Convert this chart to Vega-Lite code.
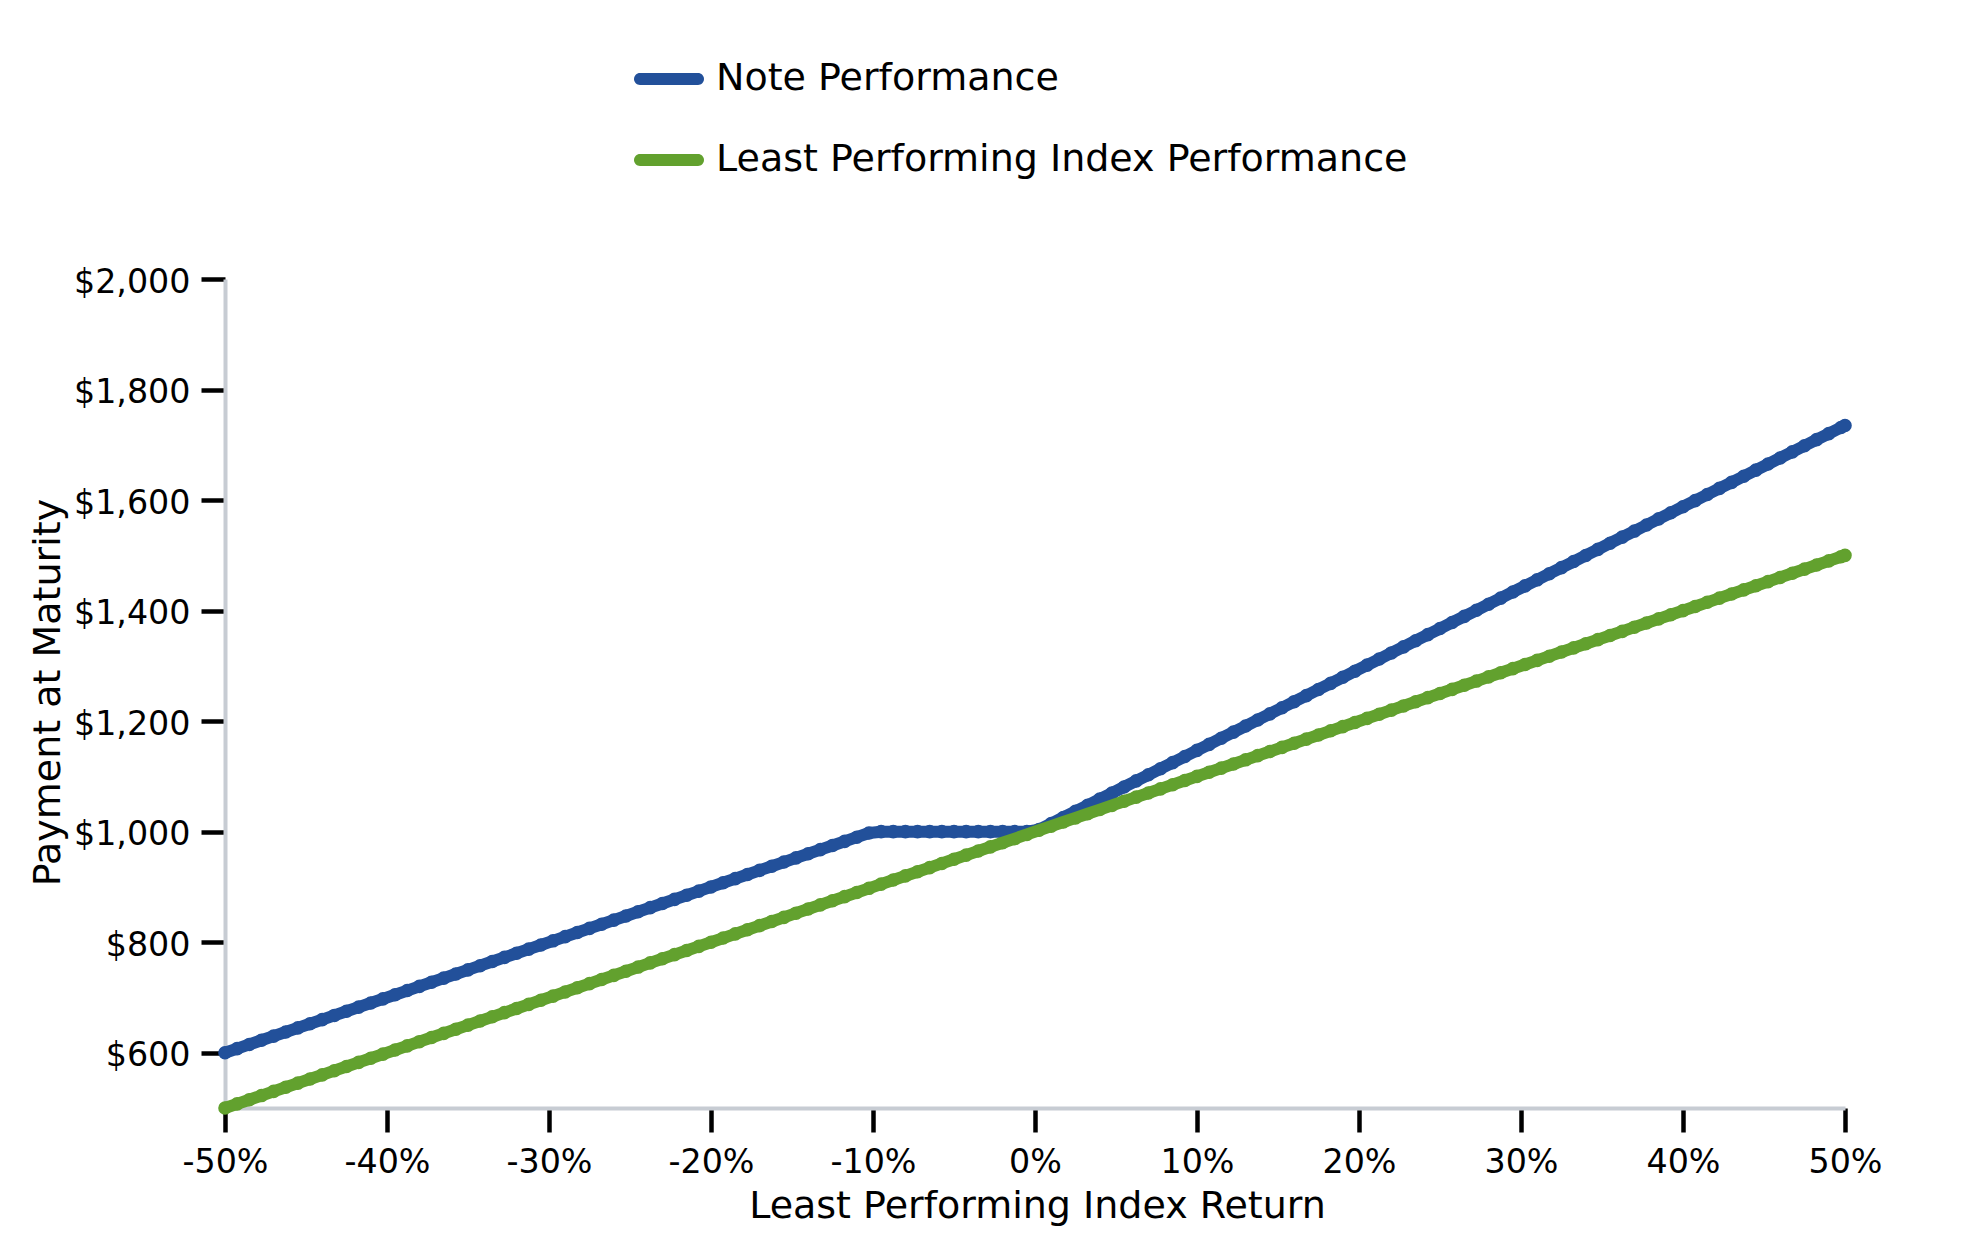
{
  "$schema": "https://vega.github.io/schema/vega-lite/v6.json",
  "width": 1620,
  "height": 829,
  "autosize": {"type": "none"},
  "padding": {"left": 225, "top": 279, "right": 134, "bottom": 142},
  "background": "white",
  "config": {
    "view": {"stroke": null},
    "font": "DejaVu Sans",
    "axis": {"labelFont": "DejaVu Sans", "titleFont": "DejaVu Sans", "grid": false, "labelColor": "black", "titleColor": "black", "titleFontWeight": "normal"},
    "legend": {
      "orient": "none", "legendX": 409, "legendY": -235, "direction": "vertical", "title": null,
      "labelFontSize": 38, "labelFont": "DejaVu Sans", "labelColor": "black", "labelOffset": 12, "labelLimit": 0,
      "symbolType": "M-0.829,-0.171L0.829,-0.171A0.171,0.171,0,0,1,0.829,0.171L-0.829,0.171A0.171,0.171,0,0,1,-0.829,-0.171Z",
      "symbolSize": 4900, "symbolStrokeWidth": 0, "symbolOpacity": 1,
      "rowPadding": 27, "padding": 0
    }
  },
  "data": {"values": [
    {"r": -50, "note": 600, "index": 500},
    {"r": -49.25, "note": 607.5, "index": 507.5},
    {"r": -48.5, "note": 615, "index": 515},
    {"r": -47.75, "note": 622.5, "index": 522.5},
    {"r": -47, "note": 630, "index": 530},
    {"r": -46.25, "note": 637.5, "index": 537.5},
    {"r": -45.5, "note": 645, "index": 545},
    {"r": -44.75, "note": 652.5, "index": 552.5},
    {"r": -44, "note": 660, "index": 560},
    {"r": -43.25, "note": 667.5, "index": 567.5},
    {"r": -42.5, "note": 675, "index": 575},
    {"r": -41.75, "note": 682.5, "index": 582.5},
    {"r": -41, "note": 690, "index": 590},
    {"r": -40.25, "note": 697.5, "index": 597.5},
    {"r": -39.5, "note": 705, "index": 605},
    {"r": -38.75, "note": 712.5, "index": 612.5},
    {"r": -38, "note": 720, "index": 620},
    {"r": -37.25, "note": 727.5, "index": 627.5},
    {"r": -36.5, "note": 735, "index": 635},
    {"r": -35.75, "note": 742.5, "index": 642.5},
    {"r": -35, "note": 750, "index": 650},
    {"r": -34.25, "note": 757.5, "index": 657.5},
    {"r": -33.5, "note": 765, "index": 665},
    {"r": -32.75, "note": 772.5, "index": 672.5},
    {"r": -32, "note": 780, "index": 680},
    {"r": -31.25, "note": 787.5, "index": 687.5},
    {"r": -30.5, "note": 795, "index": 695},
    {"r": -29.75, "note": 802.5, "index": 702.5},
    {"r": -29, "note": 810, "index": 710},
    {"r": -28.25, "note": 817.5, "index": 717.5},
    {"r": -27.5, "note": 825, "index": 725},
    {"r": -26.75, "note": 832.5, "index": 732.5},
    {"r": -26, "note": 840, "index": 740},
    {"r": -25.25, "note": 847.5, "index": 747.5},
    {"r": -24.5, "note": 855, "index": 755},
    {"r": -23.75, "note": 862.5, "index": 762.5},
    {"r": -23, "note": 870, "index": 770},
    {"r": -22.25, "note": 877.5, "index": 777.5},
    {"r": -21.5, "note": 885, "index": 785},
    {"r": -20.75, "note": 892.5, "index": 792.5},
    {"r": -20, "note": 900, "index": 800},
    {"r": -19.25, "note": 907.5, "index": 807.5},
    {"r": -18.5, "note": 915, "index": 815},
    {"r": -17.75, "note": 922.5, "index": 822.5},
    {"r": -17, "note": 930, "index": 830},
    {"r": -16.25, "note": 937.5, "index": 837.5},
    {"r": -15.5, "note": 945, "index": 845},
    {"r": -14.75, "note": 952.5, "index": 852.5},
    {"r": -14, "note": 960, "index": 860},
    {"r": -13.25, "note": 967.5, "index": 867.5},
    {"r": -12.5, "note": 975, "index": 875},
    {"r": -11.75, "note": 982.5, "index": 882.5},
    {"r": -11, "note": 990, "index": 890},
    {"r": -10.25, "note": 997.5, "index": 897.5},
    {"r": -9.5, "note": 1000, "index": 905},
    {"r": -8.75, "note": 1000, "index": 912.5},
    {"r": -8, "note": 1000, "index": 920},
    {"r": -7.25, "note": 1000, "index": 927.5},
    {"r": -6.5, "note": 1000, "index": 935},
    {"r": -5.75, "note": 1000, "index": 942.5},
    {"r": -5, "note": 1000, "index": 950},
    {"r": -4.25, "note": 1000, "index": 957.5},
    {"r": -3.5, "note": 1000, "index": 965},
    {"r": -2.75, "note": 1000, "index": 972.5},
    {"r": -2, "note": 1000, "index": 980},
    {"r": -1.25, "note": 1000, "index": 987.5},
    {"r": -0.5, "note": 1000, "index": 995},
    {"r": 0.25, "note": 1003.7, "index": 1002.5},
    {"r": 1, "note": 1014.7, "index": 1010},
    {"r": 1.75, "note": 1025.7, "index": 1017.5},
    {"r": 2.5, "note": 1036.8, "index": 1025},
    {"r": 3.25, "note": 1047.8, "index": 1032.5},
    {"r": 4, "note": 1058.8, "index": 1040},
    {"r": 4.75, "note": 1069.8, "index": 1047.5},
    {"r": 5.5, "note": 1080.9, "index": 1055},
    {"r": 6.25, "note": 1091.9, "index": 1062.5},
    {"r": 7, "note": 1102.9, "index": 1070},
    {"r": 7.75, "note": 1113.9, "index": 1077.5},
    {"r": 8.5, "note": 1125, "index": 1085},
    {"r": 9.25, "note": 1136, "index": 1092.5},
    {"r": 10, "note": 1147, "index": 1100},
    {"r": 10.75, "note": 1158, "index": 1107.5},
    {"r": 11.5, "note": 1169.1, "index": 1115},
    {"r": 12.25, "note": 1180.1, "index": 1122.5},
    {"r": 13, "note": 1191.1, "index": 1130},
    {"r": 13.75, "note": 1202.1, "index": 1137.5},
    {"r": 14.5, "note": 1213.2, "index": 1145},
    {"r": 15.25, "note": 1224.2, "index": 1152.5},
    {"r": 16, "note": 1235.2, "index": 1160},
    {"r": 16.75, "note": 1246.2, "index": 1167.5},
    {"r": 17.5, "note": 1257.3, "index": 1175},
    {"r": 18.25, "note": 1268.3, "index": 1182.5},
    {"r": 19, "note": 1279.3, "index": 1190},
    {"r": 19.75, "note": 1290.3, "index": 1197.5},
    {"r": 20.5, "note": 1301.4, "index": 1205},
    {"r": 21.25, "note": 1312.4, "index": 1212.5},
    {"r": 22, "note": 1323.4, "index": 1220},
    {"r": 22.75, "note": 1334.4, "index": 1227.5},
    {"r": 23.5, "note": 1345.5, "index": 1235},
    {"r": 24.25, "note": 1356.5, "index": 1242.5},
    {"r": 25, "note": 1367.5, "index": 1250},
    {"r": 25.75, "note": 1378.5, "index": 1257.5},
    {"r": 26.5, "note": 1389.6, "index": 1265},
    {"r": 27.25, "note": 1400.6, "index": 1272.5},
    {"r": 28, "note": 1411.6, "index": 1280},
    {"r": 28.75, "note": 1422.6, "index": 1287.5},
    {"r": 29.5, "note": 1433.7, "index": 1295},
    {"r": 30.25, "note": 1444.7, "index": 1302.5},
    {"r": 31, "note": 1455.7, "index": 1310},
    {"r": 31.75, "note": 1466.7, "index": 1317.5},
    {"r": 32.5, "note": 1477.8, "index": 1325},
    {"r": 33.25, "note": 1488.8, "index": 1332.5},
    {"r": 34, "note": 1499.8, "index": 1340},
    {"r": 34.75, "note": 1510.8, "index": 1347.5},
    {"r": 35.5, "note": 1521.9, "index": 1355},
    {"r": 36.25, "note": 1532.9, "index": 1362.5},
    {"r": 37, "note": 1543.9, "index": 1370},
    {"r": 37.75, "note": 1554.9, "index": 1377.5},
    {"r": 38.5, "note": 1566, "index": 1385},
    {"r": 39.25, "note": 1577, "index": 1392.5},
    {"r": 40, "note": 1588, "index": 1400},
    {"r": 40.75, "note": 1599, "index": 1407.5},
    {"r": 41.5, "note": 1610.1, "index": 1415},
    {"r": 42.25, "note": 1621.1, "index": 1422.5},
    {"r": 43, "note": 1632.1, "index": 1430},
    {"r": 43.75, "note": 1643.1, "index": 1437.5},
    {"r": 44.5, "note": 1654.2, "index": 1445},
    {"r": 45.25, "note": 1665.2, "index": 1452.5},
    {"r": 46, "note": 1676.2, "index": 1460},
    {"r": 46.75, "note": 1687.2, "index": 1467.5},
    {"r": 47.5, "note": 1698.3, "index": 1475},
    {"r": 48.25, "note": 1709.3, "index": 1482.5},
    {"r": 49, "note": 1720.3, "index": 1490},
    {"r": 49.75, "note": 1731.3, "index": 1497.5},
    {"r": 50, "note": 1735, "index": 1500}
  ]},
  "transform": [{"fold": ["note", "index"], "as": ["series", "payment"]}],
  "encoding": {
    "x": {
      "field": "r", "type": "quantitative",
      "scale": {"domain": [-50, 50], "nice": false, "zero": false},
      "axis": {
        "values": [-50, -40, -30, -20, -10, 0, 10, 20, 30, 40, 50],
        "labelExpr": "datum.value + '%'",
        "title": "Least Performing Index Return",
        "domainColor": "#c7ccd3", "domainWidth": 4,
        "tickColor": "black", "tickWidth": 4.5, "tickSize": 24,
        "labelFontSize": 33.3, "labelPadding": 14, "labelFlush": false, "labelOverlap": false, "labelAngle": 0,
        "titleFontSize": 38, "titleX": 812, "titleY": 79, "titleBaseline": "top", "titleAlign": "center"
      }
    },
    "y": {
      "field": "payment", "type": "quantitative",
      "scale": {"domain": [500, 2000], "nice": false, "zero": false},
      "axis": {
        "values": [600, 800, 1000, 1200, 1400, 1600, 1800, 2000],
        "format": "$,.0f",
        "title": "Payment at Maturity",
        "domainColor": "#c7ccd3", "domainWidth": 4,
        "tickColor": "black", "tickWidth": 4.5, "tickSize": 24,
        "labelFontSize": 33.3, "labelPadding": 11, "labelFlush": false, "labelOverlap": false, "labelOffset": 3,
        "titleFontSize": 38, "titleAngle": 270, "titleX": -166, "titleY": 413, "titleBaseline": "alphabetic", "titleAlign": "center"
      }
    },
    "color": {
      "field": "series", "type": "nominal",
      "scale": {"domain": ["note", "index"], "range": ["#22509a", "#62a12e"]},
      "legend": {"labelExpr": "datum.value == 'note' ? 'Note Performance' : 'Least Performing Index Performance'"}
    }
  },
  "layer": [
    {
      "mark": {"type": "point", "filled": true, "size": 185, "opacity": 1, "strokeWidth": 0}
    },
    {
      "mark": {"type": "line", "strokeWidth": 12, "strokeJoin": "round", "strokeCap": "round"}
    }
  ]
}
